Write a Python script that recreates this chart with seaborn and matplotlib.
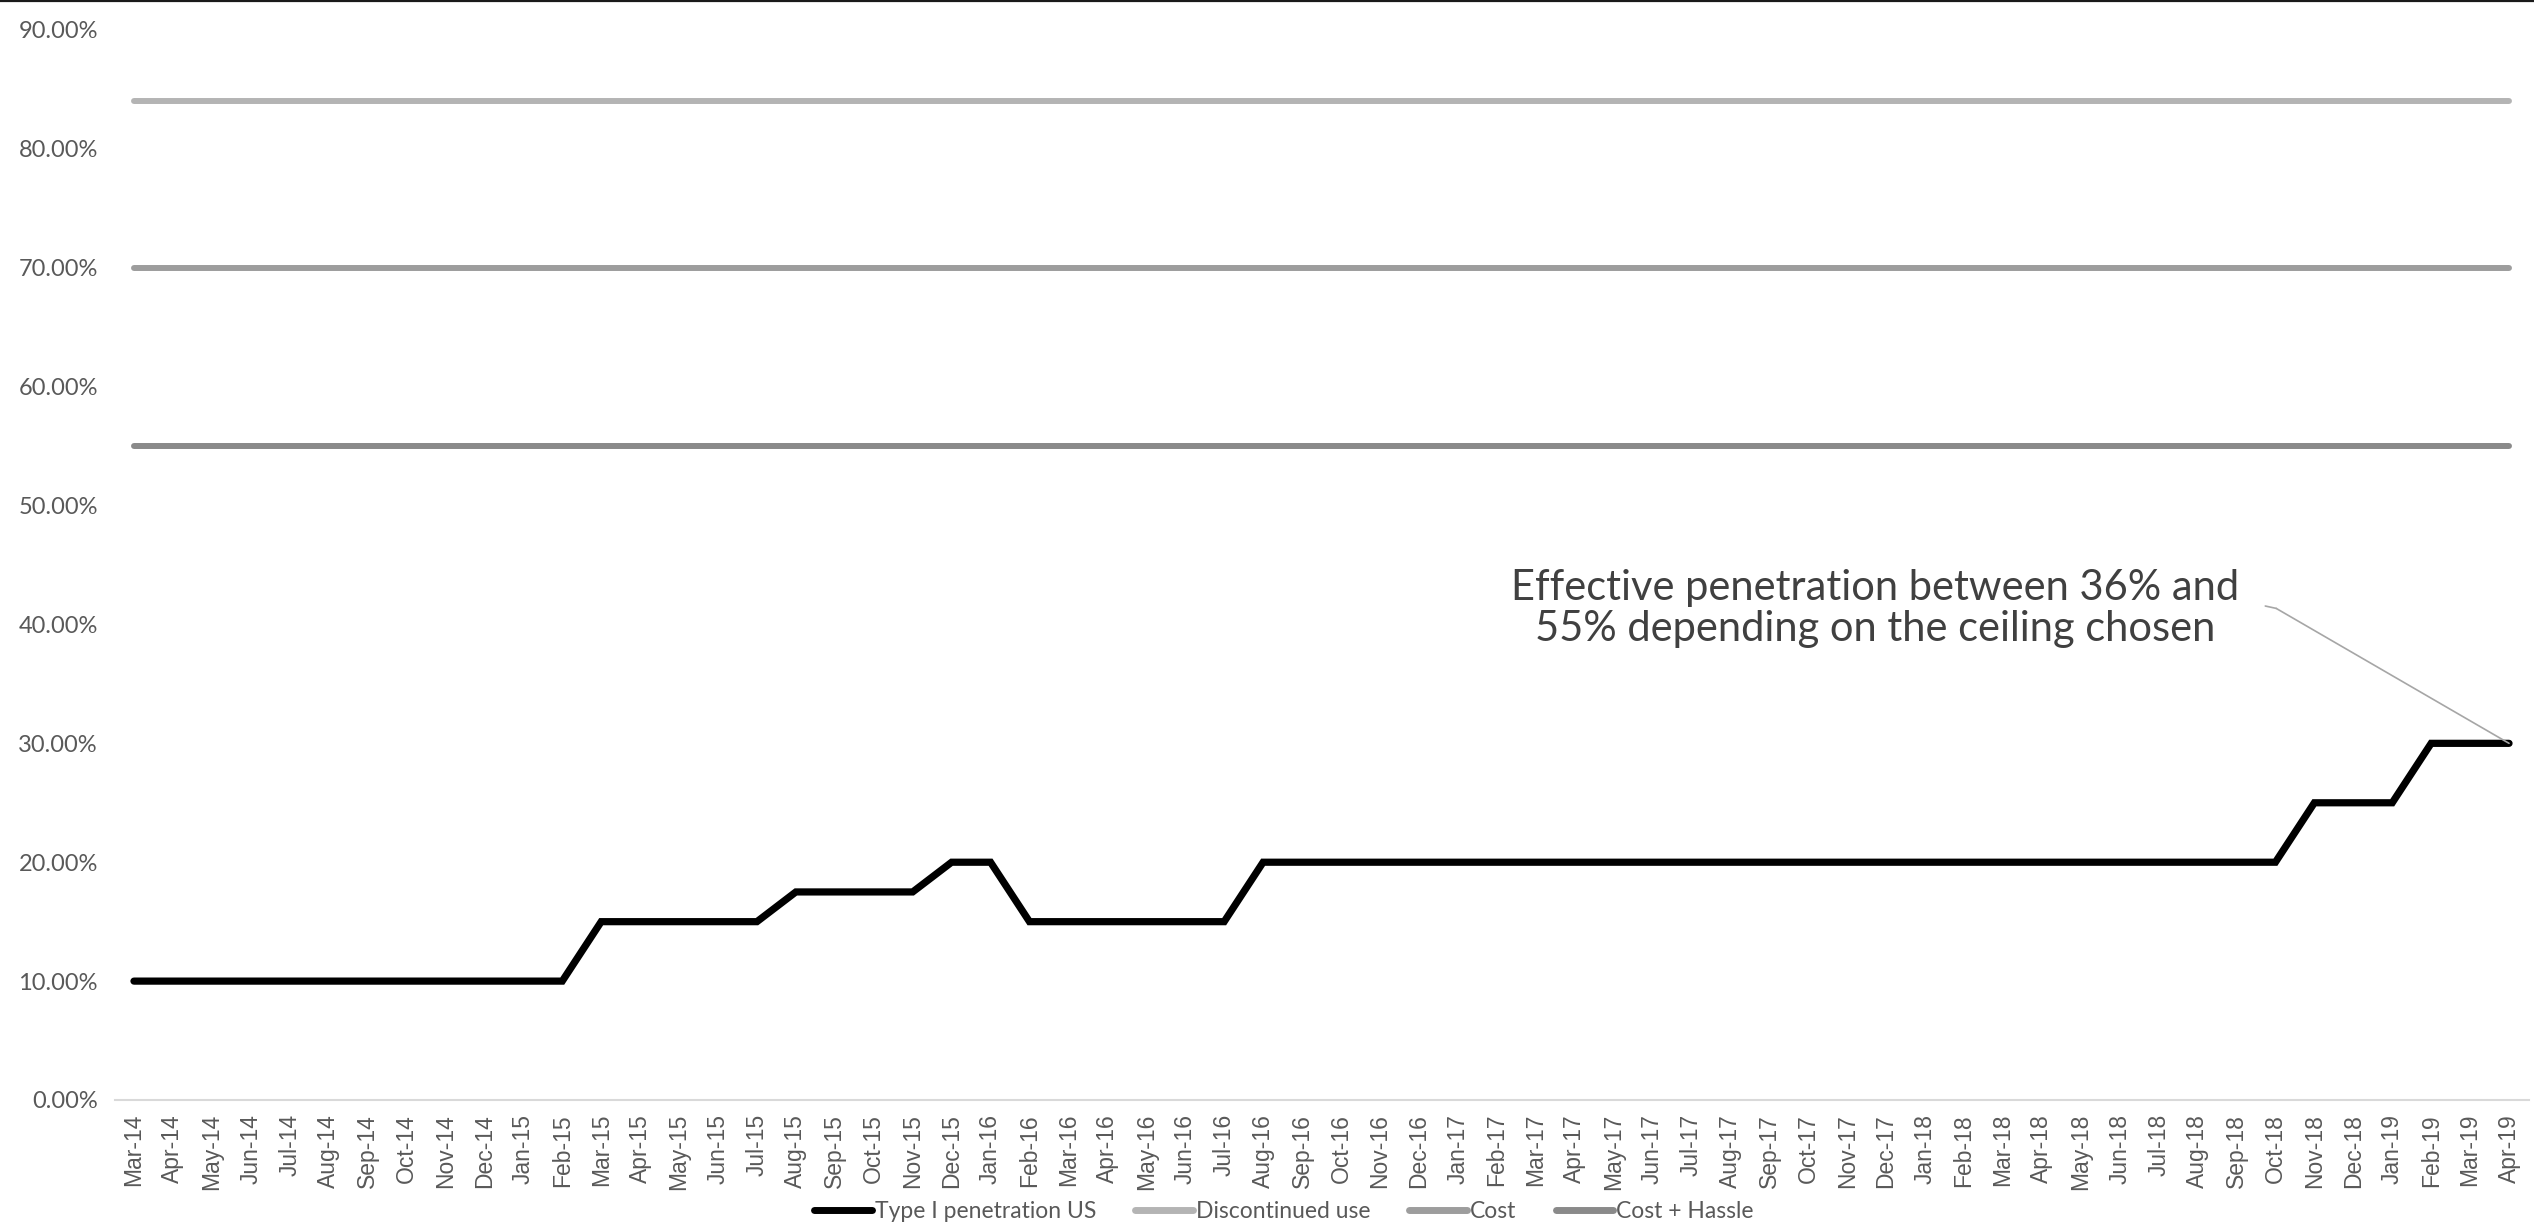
import matplotlib
matplotlib.use("Agg")
import matplotlib.pyplot as plt
from matplotlib.lines import Line2D
from matplotlib.ticker import FuncFormatter
import seaborn as sns
import pandas as pd

# Monthly category labels
months = [
    "Mar-14", "Apr-14", "May-14", "Jun-14", "Jul-14", "Aug-14", "Sep-14", "Oct-14", "Nov-14", "Dec-14",
    "Jan-15", "Feb-15", "Mar-15", "Apr-15", "May-15", "Jun-15", "Jul-15", "Aug-15", "Sep-15", "Oct-15",
    "Nov-15", "Dec-15", "Jan-16", "Feb-16", "Mar-16", "Apr-16", "May-16", "Jun-16", "Jul-16", "Aug-16",
    "Sep-16", "Oct-16", "Nov-16", "Dec-16", "Jan-17", "Feb-17", "Mar-17", "Apr-17", "May-17", "Jun-17",
    "Jul-17", "Aug-17", "Sep-17", "Oct-17", "Nov-17", "Dec-17", "Jan-18", "Feb-18", "Mar-18", "Apr-18",
    "May-18", "Jun-18", "Jul-18", "Aug-18", "Sep-18", "Oct-18", "Nov-18", "Dec-18", "Jan-19", "Feb-19",
    "Mar-19", "Apr-19",
]

# Type I penetration in the US (fraction)
penetration = [
    0.10, 0.10, 0.10, 0.10, 0.10, 0.10, 0.10, 0.10, 0.10, 0.10,
    0.10, 0.10, 0.15, 0.15, 0.15, 0.15, 0.15, 0.175, 0.175, 0.175,
    0.175, 0.20, 0.20, 0.15, 0.15, 0.15, 0.15, 0.15, 0.15, 0.20,
    0.20, 0.20, 0.20, 0.20, 0.20, 0.20, 0.20, 0.20, 0.20, 0.20,
    0.20, 0.20, 0.20, 0.20, 0.20, 0.20, 0.20, 0.20, 0.20, 0.20,
    0.20, 0.20, 0.20, 0.20, 0.20, 0.20, 0.25, 0.25, 0.25, 0.30,
    0.30, 0.30,
]

# Ceilings (flat over the whole period)
discontinued_use = 0.84
cost = 0.70
cost_hassle = 0.55

series_names = ["Type I penetration US", "Discontinued use", "Cost", "Cost + Hassle"]
series_colors = ["#000000", "#b4b4b4", "#9d9d9d", "#8a8a8a"]
series_widths = [5.2, 4.3, 4.3, 4.3]

annotation_text = "Effective penetration between 36% and\n55% depending on the ceiling chosen"

# ---------------------------------------------------------------------------
n = len(penetration)
idx = list(range(n))
frames = [
    pd.DataFrame({"idx": idx, "value": penetration, "series": series_names[0]}),
    pd.DataFrame({"idx": idx, "value": [discontinued_use] * n, "series": series_names[1]}),
    pd.DataFrame({"idx": idx, "value": [cost] * n, "series": series_names[2]}),
    pd.DataFrame({"idx": idx, "value": [cost_hassle] * n, "series": series_names[3]}),
]

sns.set_theme(style="white")
plt.rcParams["font.family"] = ["Lato", "DejaVu Sans"]

W, H, DPI = 2534, 1225, 100
fig = plt.figure(figsize=(W / DPI, H / DPI), dpi=DPI)
ax = fig.add_axes([114.5 / W, 1 - 1100 / H, (2528.5 - 114.5) / W, (1100 - 30) / H])

# ceilings first, penetration on top
for df, name, col, lw in zip(frames[1:], series_names[1:], series_colors[1:], series_widths[1:]):
    sns.lineplot(data=df, x="idx", y="value", ax=ax, color=col, linewidth=lw,
                 solid_capstyle="round", label=name, zorder=2, legend=False)
sns.lineplot(data=frames[0], x="idx", y="value", ax=ax, color=series_colors[0],
             linewidth=series_widths[0], solid_capstyle="round", solid_joinstyle="miter",
             label=series_names[0], zorder=3, legend=False)

ax.set_xlim(-0.5, n - 0.5)
ax.set_ylim(0, 0.9)
ax.set_xlabel("")
ax.set_ylabel("")

ax.set_yticks([i / 10 for i in range(10)])
ax.yaxis.set_major_formatter(FuncFormatter(lambda v, p: f"{v * 100:.2f}%"))
ax.set_xticks(idx)
ax.set_xticklabels(months, rotation=90, fontfamily="Liberation Sans", fontsize=16.5, color="#595959")
ax.tick_params(axis="y", length=0, pad=12, labelsize=17, labelcolor="#595959")
ax.tick_params(axis="x", length=0, pad=10)

for s in ["top", "right", "left"]:
    ax.spines[s].set_visible(False)
ax.spines["bottom"].set_color("#d9d9d9")
ax.spines["bottom"].set_linewidth(1.5)
ax.grid(False)

# Callout text with leader line to the last point
ax.text(44.72, 0.4135, annotation_text, ha="center", va="center", fontsize=30,
        color="#404040", linespacing=1.1)
ax.annotate("", xy=(n - 1, penetration[-1]), xytext=(55.02, 0.4135),
            arrowprops=dict(arrowstyle="-", color="#a6a6a6", lw=1.2, shrinkA=0, shrinkB=0))
ax.annotate("", xy=(55.02, 0.4135), xytext=(54.74, 0.4155),
            arrowprops=dict(arrowstyle="-", color="#a6a6a6", lw=1.2, shrinkA=0, shrinkB=0))

# Legend along the bottom edge
handles = [Line2D([0], [0], color=c, lw=5) for c in series_colors]
fig.legend(handles, series_names, loc="center", bbox_to_anchor=(1284 / W, 1 - 1212 / H),
           ncol=4, frameon=False, fontsize=16.5, handlelength=2.5, handletextpad=0.15,
           columnspacing=1.7, labelcolor="#595959", borderpad=0.1)

# thin rule across the top
fig.add_artist(Line2D([0, 1], [1 - 1 / H, 1 - 1 / H], color="#1a1a1a", lw=1.6))

fig.savefig("out.png", dpi=DPI)
